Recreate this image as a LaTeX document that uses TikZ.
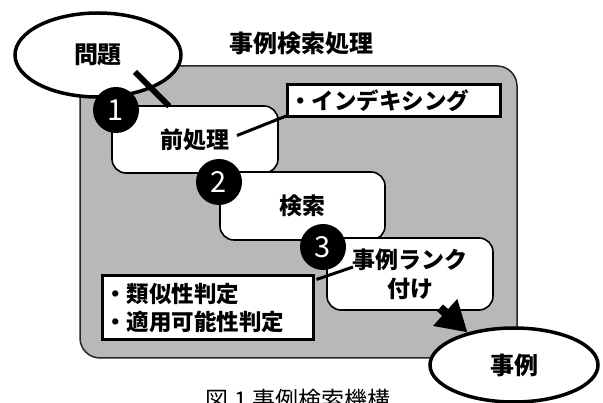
\documentclass[tikz,border=0pt]{standalone}
\usepackage{fontspec}
\setmainfont{Noto Sans CJK JP}
\usetikzlibrary{shapes.geometric,arrows.meta,calc}
\begin{document}
\begin{tikzpicture}[x=1pt,y=-1pt,
 panel/.style={draw=black!85,line width=1.5pt,fill=black!28,rounded corners=20pt},
 box/.style={draw=black,line width=1.6pt,fill=white,rounded corners=14pt,inner sep=0pt,font=\fontsize{23}{29}\selectfont\bfseries,align=center},
 note/.style={draw=black,line width=3pt,fill=white,inner sep=0pt,font=\fontsize{22.5}{28}\selectfont\bfseries,align=left},
 oval/.style={ellipse,draw=black,line width=3.5pt,fill=white,inner sep=0pt,font=\fontsize{24}{28}\selectfont\bfseries},
 num/.style={circle,fill=black,inner sep=0pt,minimum size=46pt,text=white,font=\fontsize{29}{30}\selectfont},
 link/.style={line width=3pt},
 flow/.style={line width=6pt},
 label/.style={font=\fontsize{24}{28}\selectfont\bfseries}
]
\useasboundingbox (0,0) rectangle (603,403);
\clip (0,0) rectangle (603,403);
\fill[white] (0,0) rectangle (603,403);

% panel
\node[panel,minimum width=437pt,minimum height=292pt,inner sep=0pt] (panel) at (298.5,212) {};
\node[label] (title) at (301,43) {事例検索処理};

% boxes
\node[box,minimum width=166pt,minimum height=67pt] (pre) at (195,139.5) {前処理};
\node[box,minimum width=165pt,minimum height=68pt] (srch) at (302.5,206) {検索};
\node[box,minimum width=166pt,minimum height=72pt] (rank) at (410,274) {事例ランク\\付け};
\node[note,minimum width=213pt,minimum height=32pt,text width=209pt] (idx) at (393.5,101) {・インデキシング};
\node[note,minimum width=211pt,minimum height=64pt,text width=207pt] (sim) at (207.5,308) {・類似性判定\\・適用可能性判定};

% links to notes
\draw[link] ($(pre.center)+(42,-4)$) -- ($(idx.south west)+(2,-3)$);
\draw[link] ($(rank.center)+(-57,-7)$) -- ($(sim.north east)+(2,5)$);

% input ellipse
\node[oval,minimum width=166pt,minimum height=84pt] (q) at (98,55) {問題};
\draw[flow] ($(q.center)+(37,17)$) -- ($(pre.north west)+(58,1)$);

% output ellipse
\node[oval,minimum width=168pt,minimum height=74pt] (case) at (514,365) {事例};
\draw[line width=9pt,-{Triangle[length=30pt,width=34pt]}] ($(rank.south)+(30,-3)$) -- (case.145);

% numbers
\node[num] (n1) at (116,110) {1};
\node[num] (n2) at (219,182) {2};
\node[num] (n3) at (323,247) {3};

% caption (cut off at the lower edge, as in the source)
\node[font=\fontsize{23}{27}\selectfont] (cap) at (298,400) {図 1 事例検索機構};
\end{tikzpicture}
\end{document}
